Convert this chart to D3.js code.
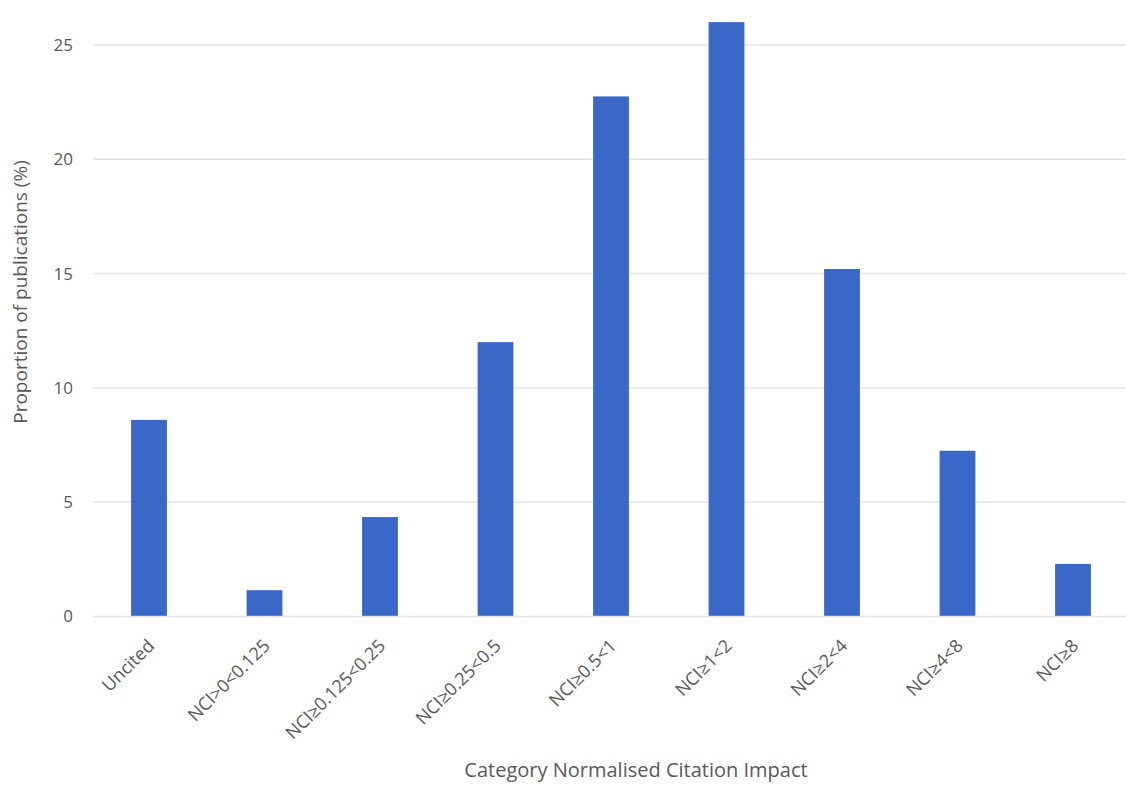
<!DOCTYPE html>
<html>
<head>
<meta charset="utf-8">
<script src="https://cdn.jsdelivr.net/npm/d3@7"></script>
<style>
  html, body { margin: 0; padding: 0; background: #ffffff; }
  svg { display: block; font-family: "Open Sans", "Noto Sans", sans-serif; }
</style>
</head>
<body>
<svg id="chart" width="1126" height="785"></svg>
<script>
// Share of publications by category normalised citation impact band
const categories = ["Uncited", "NCI>0<0.125", "NCI≥0.125<0.25", "NCI≥0.25<0.5", "NCI≥0.5<1",
                    "NCI≥1<2", "NCI≥2<4", "NCI≥4<8", "NCI≥8"];
const shares = [8.6, 1.15, 4.35, 12.0, 22.75, 26.0, 15.2, 7.25, 2.3];
const yTicks = [0, 5, 10, 15, 20, 25];

const svg = d3.select("#chart");
const textColor = "#595959";

const x = d3.scaleBand()
  .domain(categories)
  .range([91.25, 1130.75])
  .paddingInner(0.69)
  .paddingOuter(0.345);

const y = d3.scaleLinear()
  .domain([0, 25])
  .range([616.5, 45]);

// horizontal gridlines
svg.append("g")
  .selectAll("line")
  .data(yTicks.filter(d => d > 0))
  .join("line")
  .attr("x1", 93)
  .attr("x2", 1126)
  .attr("y1", d => y(d))
  .attr("y2", d => y(d))
  .attr("stroke", "#e4e4e4")
  .attr("stroke-width", 1.5);

// y axis labels
const yAxis = d3.axisLeft(y).tickValues(yTicks).tickSize(0).tickPadding(0);
svg.append("g")
  .attr("transform", "translate(73,0)")
  .call(yAxis)
  .call(g => g.select(".domain").remove())
  .call(g => g.selectAll("text")
    .attr("fill", textColor)
    .style("font-size", "17px")
    .style("font-family", "'Open Sans', sans-serif"));

// bars
svg.append("g")
  .selectAll("rect")
  .data(categories.map((c, i) => ({ c, v: shares[i] })))
  .join("rect")
  .attr("x", d => x(d.c))
  .attr("width", x.bandwidth())
  .attr("y", d => y(d.v))
  .attr("height", d => y(0) - y(d.v))
  .attr("fill", "#3968c9");

// baseline
svg.append("line")
  .attr("x1", 93).attr("x2", 1126)
  .attr("y1", y(0)).attr("y2", y(0))
  .attr("stroke", "#e4e4e4").attr("stroke-width", 1.5);

// rotated category labels
const xAxis = d3.axisBottom(x).tickSize(0).tickPadding(0);
svg.append("g")
  .attr("transform", `translate(0,${y(0)})`)
  .call(xAxis)
  .call(g => g.select(".domain").remove())
  .call(g => g.selectAll("text")
    .attr("fill", textColor)
    .style("font-size", "18px")
    .style("font-family", "'Open Sans', sans-serif")
    .attr("text-anchor", "end")
    .attr("dy", "0.35em")
    .attr("transform", "translate(2,26) rotate(-45)")
    .attr("y", 0));

// axis titles
svg.append("text")
  .attr("x", 636)
  .attr("y", 777)
  .attr("text-anchor", "middle")
  .attr("fill", textColor)
  .style("font-size", "20px")
  .text("Category Normalised Citation Impact");

svg.append("text")
  .attr("transform", "translate(27,292) rotate(-90)")
  .attr("text-anchor", "middle")
  .attr("fill", textColor)
  .style("font-size", "19px")
  .text("Proportion of publications (%)");
</script>
</body>
</html>
